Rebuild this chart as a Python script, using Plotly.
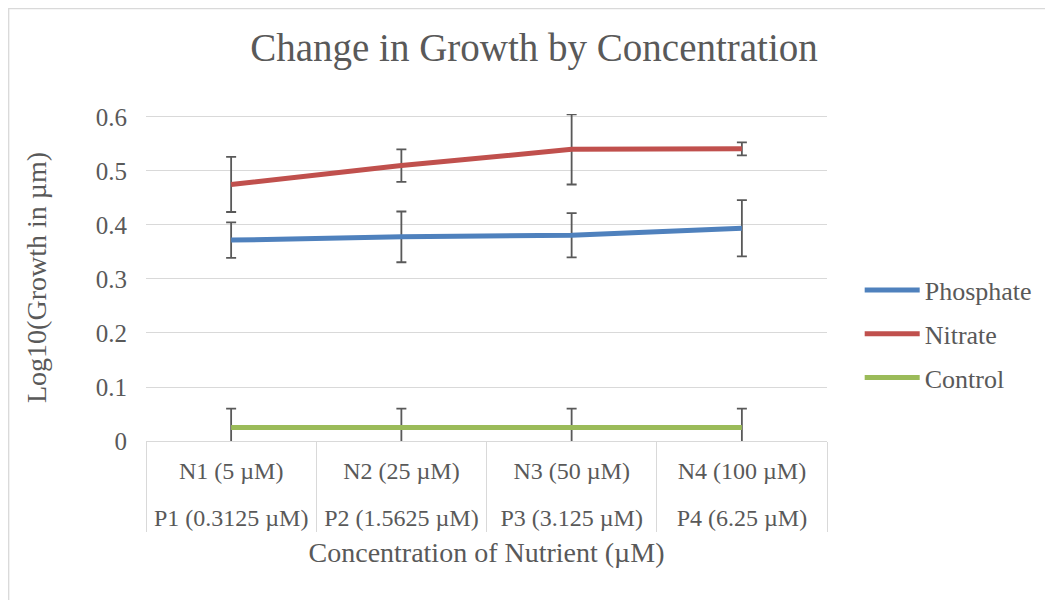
import plotly.graph_objects as go

n_labels = ["N1 (5 µM)", "N2 (25 µM)", "N3 (50 µM)", "N4 (100 µM)"]
p_labels = ["P1 (0.3125 µM)", "P2 (1.5625 µM)", "P3 (3.125 µM)", "P4 (6.25 µM)"]

phosphate = [0.372, 0.378, 0.381, 0.394]
phosphate_err = [0.033, 0.047, 0.041, 0.052]
nitrate = [0.475, 0.510, 0.540, 0.541]
nitrate_err = [0.051, 0.030, 0.065, 0.012]
control = [0.025, 0.025, 0.025, 0.025]
control_err = [0.035, 0.035, 0.035, 0.035]

FONT = "Liberation Serif"
GREY = "#595959"
SPACER = "<br><span style='font-size:6px'>&nbsp;</span>"
x = [p_labels, [s + SPACER for s in n_labels]]

L, T = 138, 106
PW, PH = 681, 327

fig = go.Figure()
series = [
    ("Phosphate", phosphate, phosphate_err, "#4f81bd"),
    ("Nitrate", nitrate, nitrate_err, "#c0504d"),
    ("Control", control, control_err, "#9bbb59"),
]
for name, vals, errs, col in series:
    fig.add_trace(go.Scatter(
        x=x, y=vals, name=name, mode="lines", legendgroup=name,
        line=dict(color=col, width=5),
        error_y=dict(type="data", array=errs, visible=True, color="#595959", thickness=1.8, width=5),
    ))

fig.update_layout(
    width=1053, height=600,
    margin=dict(l=L, r=1053 - L - PW, t=T, b=600 - T - PH, autoexpand=False),
    paper_bgcolor="white", plot_bgcolor="white",
    font=dict(family=FONT, color=GREY),
    title=dict(text="Change in Growth by Concentration", x=(526 - L) / PW, xref="paper",
               xanchor="center", y=1 - 39 / 600, yanchor="middle",
               font=dict(size=39, family=FONT, color=GREY)),
    legend=dict(x=1.048, y=(T + PH - 326) / PH, xanchor="left", yanchor="middle",
                font=dict(size=26, family=FONT, color=GREY), tracegroupgap=7,
                itemwidth=55, bgcolor="rgba(0,0,0,0)"),
    showlegend=True,
)
fig.update_yaxes(range=[0, 0.6055], dtick=0.1, tick0=0, showgrid=True, gridcolor="#d9d9d9",
                 gridwidth=1.3, zeroline=False, showline=False, ticks="",
                 tickfont=dict(size=25, family=FONT, color=GREY), ticklabelstandoff=18,
                 title=dict(text="Log10(Growth in µm)", font=dict(size=28, family=FONT, color=GREY),
                            standoff=40))
fig.update_xaxes(type="multicategory", range=[-0.5, 3.5], showline=True, linecolor="#d9d9d9",
                 linewidth=1.3, showgrid=False, showdividers=True, dividercolor="#d9d9d9",
                 dividerwidth=1.3, ticklabelstandoff=8,
                 tickfont=dict(size=24, family=FONT, color=GREY),
                 title=dict(text="Concentration of Nutrient (µM)", font=dict(size=28, family=FONT, color=GREY),
                            standoff=12))

# outer chart border
fig.add_shape(type="rect", xref="paper", yref="paper",
              x0=(0.7 - L) / PW, x1=(1070 - L) / PW,
              y0=-(700 - T - PH) / PH, y1=(T + PH - 0.7) / PH,
              line=dict(color="#d9d9d9", width=1.3), layer="below")

fig.write_html("out.html")
